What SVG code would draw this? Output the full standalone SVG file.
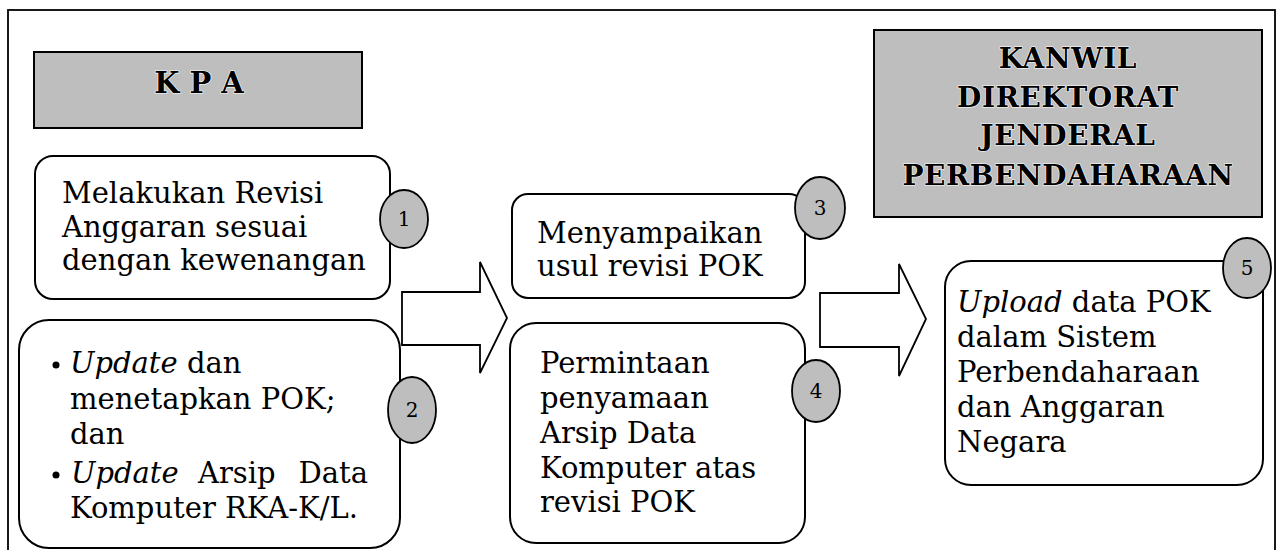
<svg xmlns="http://www.w3.org/2000/svg" width="1283" height="550" viewBox="0 0 1283 550">
<style>
.frame{fill:none;stroke:#000;stroke-width:1.8}
.hdr{fill:#bebebe;stroke:#000;stroke-width:2}
.hdrt{font-family:"DejaVu Serif","Liberation Serif",serif;font-weight:bold;font-size:28px;fill:#000;stroke:#fff;stroke-width:1.2;paint-order:stroke;text-anchor:middle}
.box{fill:#fff;stroke:#000;stroke-width:2}
.num{fill:#bebebe;stroke:#000;stroke-width:1.8}
.numt{font-family:"DejaVu Serif","Liberation Serif",serif;font-size:20px;fill:#000;text-anchor:middle}
.t{font-family:"DejaVu Serif","Liberation Serif",serif;font-size:29px;fill:#000}
.i{font-style:italic}
.arrow{fill:#fff;stroke:#000;stroke-width:1.8;stroke-linejoin:miter}
</style>
<rect x="0" y="0" width="1283" height="550" fill="#fff"/>
<rect class="frame" x="8" y="10" width="1267" height="570"/>

<g id="kpa">
<rect class="hdr" x="34" y="52" width="328" height="76"/>
<text class="hdrt" x="199" y="93" style="font-size:29px">K P A</text>
</g>

<g id="kanwil">
<rect class="hdr" x="874" y="30" width="388" height="187"/>
<text class="hdrt" x="1068" y="68" letter-spacing="0.6">KANWIL</text>
<text class="hdrt" x="1068" y="107" letter-spacing="0.6">DIREKTORAT</text>
<text class="hdrt" x="1068" y="145" letter-spacing="0.6">JENDERAL</text>
<text class="hdrt" x="1068" y="185" letter-spacing="0.6">PERBENDAHARAAN</text>
</g>

<g id="connectors">
<polygon class="arrow" points="402,292 480,292 480,262 507,318 480,373 480,345 402,345"/>
<polygon class="arrow" points="820,293 899,293 899,264 926,319 899,376 899,347 820,347"/>
</g>

<g id="step1">
<rect class="box" x="35" y="156" width="355" height="143" rx="18"/>
<text class="t" x="62" y="203">Melakukan Revisi</text>
<text class="t" x="62" y="237">Anggaran sesuai</text>
<text class="t" x="62" y="270">dengan kewenangan</text>
<ellipse class="num" cx="404" cy="219" rx="24" ry="29"/>
<text class="numt" x="404" y="226">1</text>
</g>

<g id="step2">
<rect class="box" x="19" y="320" width="381" height="228" rx="30"/>
<circle cx="56" cy="365" r="3.5" fill="#000"/>
<text class="t" x="70" y="373"><tspan class="i">Update</tspan> dan</text>
<text class="t" x="70" y="409">menetapkan POK;</text>
<text class="t" x="70" y="444">dan</text>
<circle cx="56" cy="475" r="3.5" fill="#000"/>
<text class="t" x="71" y="483"><tspan class="i">Update</tspan></text>
<text class="t" x="198" y="483">Arsip</text>
<text class="t" x="368" y="483" text-anchor="end">Data</text>
<text class="t" x="70" y="518">Komputer RKA-K/L.</text>
<ellipse class="num" cx="412" cy="410" rx="24" ry="33"/>
<text class="numt" x="412" y="417">2</text>
</g>

<g id="step3">
<rect class="box" x="512" y="194" width="293" height="104" rx="16"/>
<text class="t" x="537" y="243">Menyampaikan</text>
<text class="t" x="537" y="276">usul revisi POK</text>
<ellipse class="num" cx="820" cy="208" rx="25" ry="31"/>
<text class="numt" x="820" y="215">3</text>
</g>

<g id="step4">
<rect class="box" x="510" y="323" width="295" height="220" rx="26"/>
<text class="t" x="540" y="373">Permintaan</text>
<text class="t" x="540" y="408">penyamaan</text>
<text class="t" x="540" y="443">Arsip Data</text>
<text class="t" x="540" y="478">Komputer atas</text>
<text class="t" x="540" y="512">revisi POK</text>
<ellipse class="num" cx="816" cy="391" rx="24" ry="31"/>
<text class="numt" x="816" y="398">4</text>
</g>

<g id="step5">
<rect class="box" x="945" y="261" width="318" height="224" rx="26"/>
<text class="t" x="957" y="312"><tspan class="i">Upload</tspan> data POK</text>
<text class="t" x="957" y="347">dalam Sistem</text>
<text class="t" x="957" y="382">Perbendaharaan</text>
<text class="t" x="957" y="417">dan Anggaran</text>
<text class="t" x="957" y="452">Negara</text>
<ellipse class="num" cx="1247" cy="268" rx="24" ry="30"/>
<text class="numt" x="1247" y="275">5</text>
</g>
</svg>
